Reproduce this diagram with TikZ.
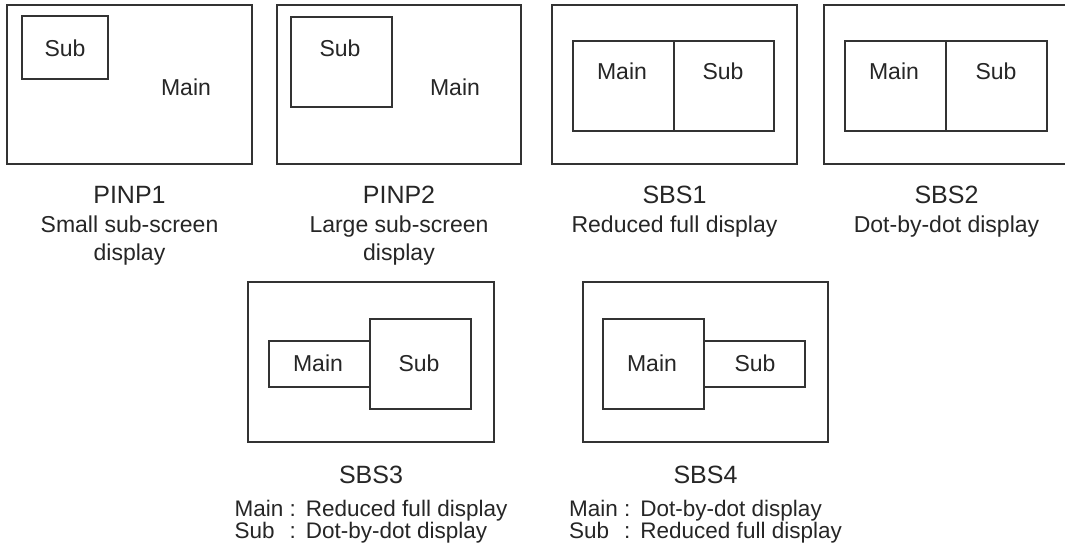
\documentclass[tikz,border=0pt]{standalone}
\usepackage{fontspec}
\setmainfont{Liberation Sans}
\tikzset{
  frame/.style={draw=black!80, line width=1.2pt, inner sep=0pt, outer sep=0pt, anchor=north west},
  boxtxt/.style={anchor=base, text=black!85, font=\fontsize{23}{28}\selectfont, inner sep=0pt},
  lbl/.style={anchor=base, text=black!85, font=\fontsize{25}{30}\selectfont, inner sep=0pt},
  desc/.style={anchor=base, text=black!85, font=\fontsize{23}{28}\selectfont, inner sep=0pt},
  twoline/.style={anchor=base, text=black!85, font=\fontsize{22.5}{21.7}\selectfont, inner sep=0pt},
}
\begin{document}
\begin{tikzpicture}[x=1pt,y=-1pt]
\clip (0,0) rectangle (1065,548);
\fill[white] (0,0) rectangle (1065,548);

% PINP1
\node[frame, minimum width=245, minimum height=159] (p1) at (7,5) {};
\node[frame, minimum width=86, minimum height=63] (p1s) at (22,16) {};
\node[boxtxt] (p1subt) at (65,57) {Sub};
\node[boxtxt] (p1maint) at (186,96) {Main};
\node[lbl] (p1l) at (129.5,204) {PINP1};
\node[desc] (p1d1) at (129.5,232) {Small sub-screen};
\node[desc] (p1d2) at (129.5,260) {display};

% PINP2
\node[frame, minimum width=244, minimum height=159] (p2) at (277,5) {};
\node[frame, minimum width=101, minimum height=90] (p2s) at (291,17) {};
\node[boxtxt] (p2subt) at (340,57) {Sub};
\node[boxtxt] (p2maint) at (455,96) {Main};
\node[lbl] (p2l) at (399,204) {PINP2};
\node[desc] (p2d1) at (399,232) {Large sub-screen};
\node[desc] (p2d2) at (399,260) {display};

% SBS1
\node[frame, minimum width=245, minimum height=159] (s1) at (552,5) {};
\node[frame, minimum width=101, minimum height=90] (s1m) at (573,41) {};
\node[frame, minimum width=100, minimum height=90] (s1s) at (674,41) {};
\node[boxtxt] (s1mt) at (622,80) {Main};
\node[boxtxt] (s1st) at (723,80) {Sub};
\node[lbl] (s1l) at (674.5,204) {SBS1};
\node[desc] (s1d) at (674.5,232) {Reduced full display};

% SBS2
\node[frame, minimum width=245, minimum height=159] (s2) at (824,5) {};
\node[frame, minimum width=101, minimum height=90] (s2m) at (845,41) {};
\node[frame, minimum width=101, minimum height=90] (s2s) at (946,41) {};
\node[boxtxt] (s2mt) at (894,80) {Main};
\node[boxtxt] (s2st) at (996,80) {Sub};
\node[lbl] (s2l) at (946.5,204) {SBS2};
\node[desc] (s2d) at (946.5,232) {Dot-by-dot display};

% SBS3
\node[frame, minimum width=246, minimum height=160] (s3) at (248,282) {};
\node[frame, minimum width=101, minimum height=46] (s3m) at (269,341) {};
\node[frame, minimum width=101, minimum height=90] (s3s) at (370,319) {};
\node[boxtxt] (s3mt) at (318,371) {Main};
\node[boxtxt] (s3st) at (419,371) {Sub};
\node[lbl] (s3l) at (371,483) {SBS3};
\node[twoline] (s3d) at (371,516) {\begin{tabular}[t]{@{}l@{\ :\ \,}l@{}}Main & Reduced full display\\ Sub & Dot-by-dot display\end{tabular}};

% SBS4
\node[frame, minimum width=245, minimum height=160] (s4) at (583,282) {};
\node[frame, minimum width=101, minimum height=90] (s4m) at (603,319) {};
\node[frame, minimum width=101, minimum height=46] (s4s) at (704,341) {};
\node[boxtxt] (s4mt) at (652,371) {Main};
\node[boxtxt] (s4st) at (755,371) {Sub};
\node[lbl] (s4l) at (705.5,483) {SBS4};
\node[twoline] (s4d) at (705.5,516) {\begin{tabular}[t]{@{}l@{\ :\ \,}l@{}}Main & Dot-by-dot display\\ Sub & Reduced full display\end{tabular}};
\end{tikzpicture}
\end{document}
